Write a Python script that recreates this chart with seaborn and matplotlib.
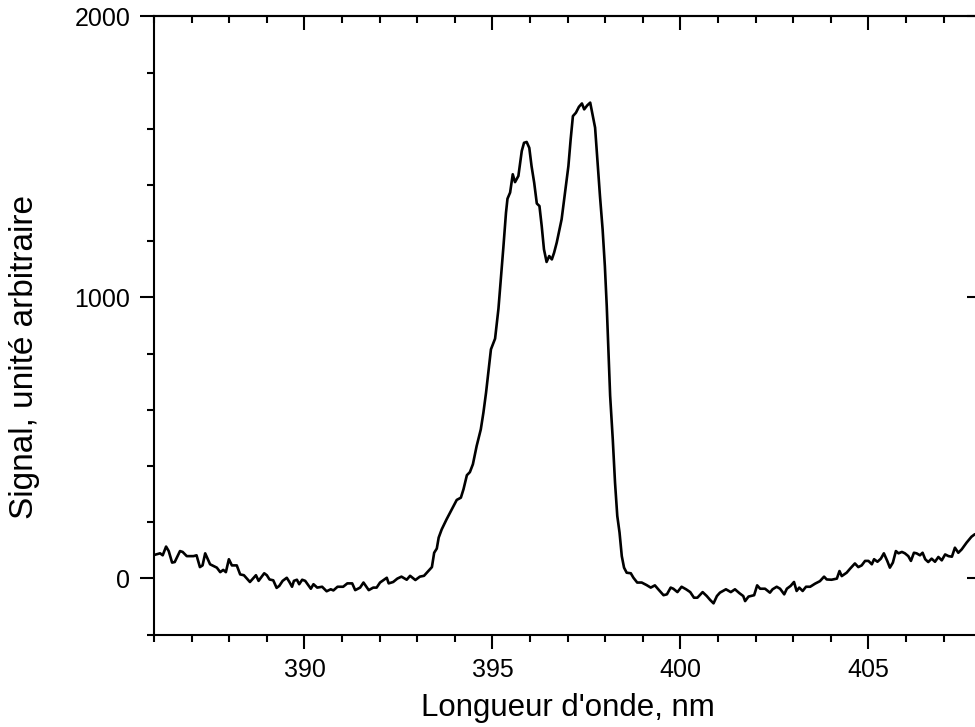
import numpy as np
import pandas as pd
import seaborn as sns
import matplotlib.pyplot as plt
from matplotlib.ticker import MultipleLocator, NullFormatter

# spectre : fond gauche, raie, fond droit
left_wl = [386.00, 386.05, 386.16, 386.23, 386.32, 386.39, 386.48, 386.55, 386.69, 386.76,
           386.87, 387.05, 387.13, 387.22, 387.29, 387.36, 387.49, 387.67, 387.76, 387.84,
           387.91, 387.99, 388.07, 388.20, 388.29, 388.39, 388.47, 388.55, 388.71, 388.78,
           388.93, 389.00, 389.07, 389.17, 389.26, 389.33, 389.42, 389.53, 389.60, 389.67,
           389.72, 389.80, 389.86, 389.94, 390.02, 390.17, 390.24, 390.34, 390.47, 390.59,
           390.70, 390.77, 390.88, 391.03, 391.14, 391.27, 391.35, 391.48, 391.57, 391.71,
           391.83, 391.92, 392.01, 392.19, 392.24, 392.36, 392.47, 392.58, 392.72, 392.81,
           392.95, 393.07, 393.18, 393.39, 393.45, 393.52, 393.57]
left_sig = [83, 85, 89, 82, 113, 97, 56, 58, 97, 94,
            79, 79, 82, 40, 46, 89, 50, 38, 22, 30,
            22, 68, 46, 46, 14, 11, -1, -13, 11, -9,
            18, 11, -4, -7, -34, -27, -9, 2, -13, -30,
            -9, -5, -21, -5, -9, -37, -21, -33, -30, -46,
            -39, -43, -30, -30, -18, -18, -42, -33, -15, -42,
            -33, -33, -15, 2, -18, -13, -1, 6, -5, 9,
            -6, 6, 9, 40, 91, 106, 145]

peak_wl = [393.65, 393.78, 393.92, 394.05, 394.16, 394.23, 394.32, 394.40, 394.48, 394.58,
           394.69, 394.76, 394.83, 394.89, 394.96, 395.07, 395.16, 395.22, 395.29, 395.36,
           395.40, 395.47, 395.54, 395.60, 395.69, 395.78, 395.84, 395.91, 395.98, 396.04,
           396.11, 396.18, 396.25, 396.31, 396.37, 396.44, 396.51, 396.58, 396.64, 396.71,
           396.84, 396.93, 397.02, 397.08, 397.14, 397.22, 397.30, 397.38, 397.44, 397.52,
           397.60, 397.67, 397.73, 397.79, 397.86, 397.93, 397.99, 398.04, 398.08, 398.13,
           398.20, 398.26, 398.32, 398.38, 398.44, 398.50, 398.57]
peak_sig = [174, 210, 246, 279, 287, 317, 367, 378, 406, 471,
            530, 590, 661, 732, 815, 853, 960, 1058, 1177, 1301,
            1351, 1373, 1438, 1410, 1432, 1521, 1550, 1553, 1532, 1467,
            1408, 1334, 1325, 1254, 1171, 1126, 1147, 1135, 1159, 1195,
            1278, 1373, 1467, 1562, 1645, 1657, 1678, 1690, 1669, 1683,
            1693, 1645, 1604, 1491, 1360, 1242, 1111, 969, 827, 650,
            495, 341, 222, 163, 79, 38, 20]

right_wl = [398.68, 398.75, 398.85, 398.97, 399.10, 399.21, 399.32, 399.41, 399.55, 399.64,
            399.74, 399.81, 399.92, 400.03, 400.15, 400.26, 400.36, 400.45, 400.59, 400.70,
            400.79, 400.88, 400.97, 401.05, 401.21, 401.34, 401.45, 401.57, 401.67, 401.72,
            401.81, 401.96, 402.04, 402.12, 402.25, 402.38, 402.45, 402.56, 402.65, 402.76,
            402.83, 402.93, 403.02, 403.09, 403.16, 403.25, 403.34, 403.45, 403.58, 403.71,
            403.82, 403.89, 404.02, 404.16, 404.23, 404.29, 404.42, 404.51, 404.64, 404.73,
            404.82, 404.91, 405.00, 405.09, 405.15, 405.24, 405.33, 405.41, 405.50, 405.57,
            405.65, 405.73, 405.80, 405.89, 405.97, 406.06, 406.13, 406.21, 406.28, 406.37,
            406.44, 406.51, 406.59, 406.68, 406.77, 406.86, 406.95, 407.04, 407.13, 407.22,
            407.30, 407.39, 407.48, 407.61, 407.74, 407.83]
right_sig = [18, 2, -15, -15, -24, -33, -25, -39, -60, -57,
             -33, -37, -49, -30, -39, -49, -69, -69, -49, -63,
             -77, -89, -63, -51, -39, -49, -39, -53, -63, -81,
             -65, -60, -25, -37, -37, -51, -39, -30, -37, -57,
             -37, -27, -13, -45, -33, -45, -30, -30, -19, -10,
             6, -4, -5, -1, 26, 8, 20, 34, 53, 40,
             46, 62, 62, 50, 68, 59, 70, 89, 62, 38,
             56, 97, 89, 94, 89, 79, 62, 91, 89, 82,
             91, 68, 58, 70, 59, 76, 64, 85, 79, 77,
             109, 91, 103, 127, 148, 157]

df = pd.DataFrame({
    "wl": left_wl + peak_wl + right_wl,
    "signal": left_sig + peak_sig + right_sig,
})

sns.set_style("ticks")
plt.rcParams["font.family"] = ["Liberation Sans", "DejaVu Sans"]
plt.rcParams["text.color"] = "black"
plt.rcParams["axes.labelcolor"] = "black"

fig = plt.figure(figsize=(9.75, 7.27), dpi=100)
ax = fig.add_axes([0.158, 0.1272, 0.8484, 0.8503])

sns.lineplot(data=df, x="wl", y="signal", color="black", linewidth=1.9, ax=ax)

ax.set_xlim(386, 408)
ax.set_ylim(-200, 2000)
ax.xaxis.set_major_locator(MultipleLocator(5))
ax.xaxis.set_minor_locator(MultipleLocator(1))
ax.yaxis.set_major_locator(MultipleLocator(1000))
ax.yaxis.set_minor_locator(MultipleLocator(200))

for s in ax.spines.values():
    s.set_visible(True)
    s.set_linewidth(1.5)
    s.set_color("black")

ax.tick_params(which="both", bottom=True, left=True, top=False, right=False,
               direction="out", width=1.5, color="black", labelcolor="black")
ax.tick_params(which="major", length=10, labelsize=18, pad=7)
ax.tick_params(which="minor", length=5)

top = ax.secondary_xaxis("top")
top.xaxis.set_major_locator(MultipleLocator(5))
top.xaxis.set_minor_locator(MultipleLocator(1))
top.xaxis.set_major_formatter(NullFormatter())
top.tick_params(which="both", direction="in", width=1.5, color="black")
top.tick_params(which="major", length=10)
top.tick_params(which="minor", length=5)
top.spines["top"].set_linewidth(1.5)

right = ax.secondary_yaxis("right")
right.yaxis.set_major_locator(MultipleLocator(1000))
right.yaxis.set_minor_locator(MultipleLocator(200))
right.yaxis.set_major_formatter(NullFormatter())
right.tick_params(which="major", direction="in", length=10, width=1.5, color="black")
right.tick_params(which="minor", length=0)

ax.set_xlabel("Longueur d'onde, nm", fontsize=22.5, labelpad=8)
ax.set_ylabel("Signal, unité arbitraire", fontsize=24)
ax.yaxis.set_label_coords(-0.138, 0.449)

fig.savefig("out.png", dpi=100)
